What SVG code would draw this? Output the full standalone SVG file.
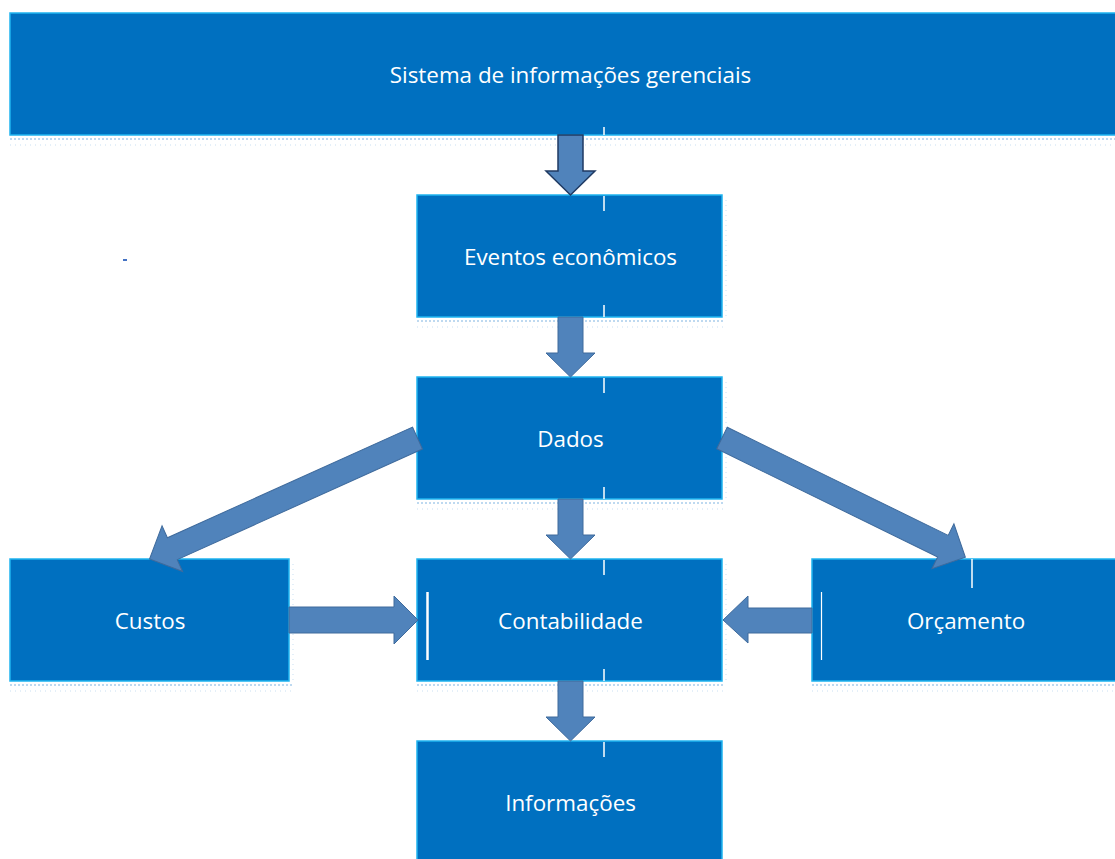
<svg xmlns="http://www.w3.org/2000/svg" width="1115" height="859" viewBox="0 0 1115 859">
<defs>
<style>
.box{fill:#0070C0;stroke:#1FB4F0;stroke-width:1.5}
.shd{stroke:#A9CDEB;stroke-width:1.5;stroke-dasharray:2 2;fill:none}
.shd2{stroke:#C9DFF2;stroke-width:1;stroke-dasharray:1 4;fill:none}
.lbl{fill:#FFFFFF;font-family:"Open Sans","Liberation Sans",sans-serif;font-size:22.4px;text-anchor:middle;dominant-baseline:central}
.arr{fill:#5083BB;stroke:#3E6A9C;stroke-width:1}
.wl{stroke:#FFFFFF;stroke-width:1.5}
</style>
<polygon id="varrow" points="-12.5,0 12.5,0 12.5,36 24.5,36 0,60 -24.5,36 -12.5,36"/>
</defs>
<rect width="1115" height="859" fill="#FFFFFF"/>
<g id="shadows">
<line class="shd" x1="10" y1="139" x2="1115" y2="139"/>
<line class="shd2" x1="10" y1="145" x2="1115" y2="145"/>
<line class="shd" x1="417" y1="321" x2="725" y2="321"/>
<line class="shd2" x1="417" y1="327" x2="725" y2="327"/>
<line class="shd" x1="417" y1="503" x2="725" y2="503"/>
<line class="shd2" x1="417" y1="509" x2="725" y2="509"/>
<line class="shd" x1="10" y1="685" x2="292" y2="685"/>
<line class="shd2" x1="10" y1="691" x2="292" y2="691"/>
<line class="shd" x1="417" y1="685" x2="725" y2="685"/>
<line class="shd2" x1="417" y1="691" x2="725" y2="691"/>
<line class="shd" x1="812" y1="685" x2="1115" y2="685"/>
<line class="shd2" x1="812" y1="691" x2="1115" y2="691"/>
<line class="shd2" x1="726" y1="200" x2="726" y2="320"/>
<line class="shd2" x1="726" y1="382" x2="726" y2="502"/>
<line class="shd2" x1="726" y1="564" x2="726" y2="684"/>
<line class="shd2" x1="293" y1="564" x2="293" y2="684"/>
</g>
<g id="n-sistema">
<rect class="box" x="10" y="13" width="1120" height="122"/>
<text class="lbl" x="570.5" y="74">Sistema de informações gerenciais</text>
</g>
<g id="n-eventos">
<rect class="box" x="417" y="195" width="305" height="122"/>
<text class="lbl" x="570.5" y="256">Eventos econômicos</text>
</g>
<g id="n-dados">
<rect class="box" x="417" y="377" width="305" height="122"/>
<text class="lbl" x="570.5" y="438">Dados</text>
</g>
<g id="n-custos">
<rect class="box" x="10" y="559" width="279" height="122"/>
<text class="lbl" x="150" y="620">Custos</text>
</g>
<g id="n-contabilidade">
<rect class="box" x="417" y="559" width="305" height="122"/>
<text class="lbl" x="570.5" y="620">Contabilidade</text>
</g>
<g id="n-orcamento">
<rect class="box" x="812" y="559" width="320" height="122"/>
<text class="lbl" x="966" y="620">Orçamento</text>
</g>
<g id="n-informacoes">
<rect class="box" x="417" y="741" width="305" height="122"/>
<text class="lbl" x="570.5" y="802">Informações</text>
</g>
<g id="connectors">
<use href="#varrow" transform="translate(570.5,135)" style="fill:#5083BB;stroke:#1F3A63;stroke-width:1.5"/>
<use href="#varrow" class="arr" transform="translate(570.5,317)"/>
<use href="#varrow" class="arr" transform="translate(570.5,499)"/>
<use href="#varrow" class="arr" transform="translate(570.5,681)"/>
<polygon class="arr" points="289,607 394,607 394,596 418,620 394,644 394,633 289,633"/>
<polygon class="arr" points="812,608 748,608 748,596 723,620 748,643 748,633 812,633"/>
<polygon class="arr" transform="translate(417.5,438) rotate(155.7)" points="0,-12 269,-12 269,-25 294,0 269,25 269,12 0,12"/>
<polygon class="arr" transform="translate(722,438) rotate(26.1)" points="0,-12 246,-12 246,-25 271,0 246,25 246,12 0,12"/>
</g>
<g id="marks">
<line class="wl" x1="604" y1="127" x2="604" y2="135"/>
<line class="wl" x1="604" y1="196" x2="604" y2="211"/>
<line class="wl" x1="604" y1="305" x2="604" y2="317"/>
<line class="wl" x1="604" y1="378" x2="604" y2="393"/>
<line class="wl" x1="604" y1="487" x2="604" y2="499"/>
<line class="wl" x1="604" y1="560" x2="604" y2="575"/>
<line class="wl" x1="604" y1="669" x2="604" y2="681"/>
<line class="wl" x1="604" y1="742" x2="604" y2="757"/>
<line stroke="#FFFFFF" stroke-width="2.5" x1="427.5" y1="592" x2="427.5" y2="660"/>
<line stroke="#FFFFFF" stroke-width="1.2" x1="821.5" y1="592" x2="821.5" y2="660"/>
<line stroke="#FFFFFF" stroke-width="1.5" x1="972" y1="559" x2="972" y2="588"/>
<rect x="123" y="259" width="4" height="2" fill="#4472C4"/>
</g>
</svg>
